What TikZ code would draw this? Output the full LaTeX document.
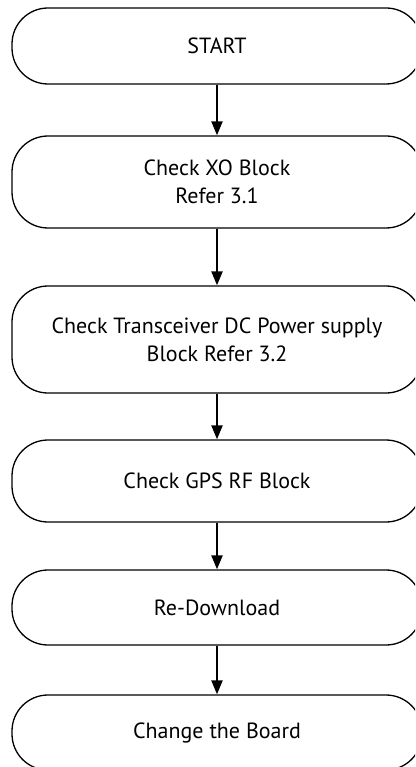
\documentclass[tikz,border=0pt]{standalone}
\usepackage{fontspec}
\setmainfont{PT Sans}
\usetikzlibrary{arrows.meta}

\begin{document}
\begin{tikzpicture}[x=1pt,y=-1pt,>={Triangle[length=14pt,width=11pt]},
  block/.style={draw,line width=1.3pt,rounded corners=36pt,minimum width=410pt,
    inner sep=0pt,align=center,font=\fontsize{22}{28}\selectfont},
  flow/.style={->,line width=2.2pt}]

% ------------------------------------------------------------------
% Page frame (the boxes run off the right edge)
% ------------------------------------------------------------------
\useasboundingbox (0,0) rectangle (415,767);
\clip (0,0) rectangle (415,767);

% ------------------------------------------------------------------
% Steps, top to bottom
% ------------------------------------------------------------------
\node[block,minimum height=76pt]  (start)   at (217,46)    {START};
\node[block,minimum height=92pt]  (xo)      at (217,182)   {Check XO Block\\Refer 3.1};
\node[block,minimum height=107pt] (dcpower) at (217,339.5) {Check Transceiver DC Power supply\\Block Refer 3.2};
\node[block,minimum height=82pt]  (gpsrf)   at (217,481)   {Check GPS RF Block};
\node[block,minimum height=75pt]  (redl)    at (217,607.5) {Re-Download};
\node[block,minimum height=75pt]  (board)   at (217,732.5) {Change the Board};

% ------------------------------------------------------------------
% Arrows between the steps
% ------------------------------------------------------------------
\draw[flow] (start)   -- (xo);
\draw[flow] (xo)      -- (dcpower);
\draw[flow] (dcpower) -- (gpsrf);
\draw[flow] (gpsrf)   -- (redl);
\draw[flow] (redl)    -- (board);

\end{tikzpicture}
\end{document}
